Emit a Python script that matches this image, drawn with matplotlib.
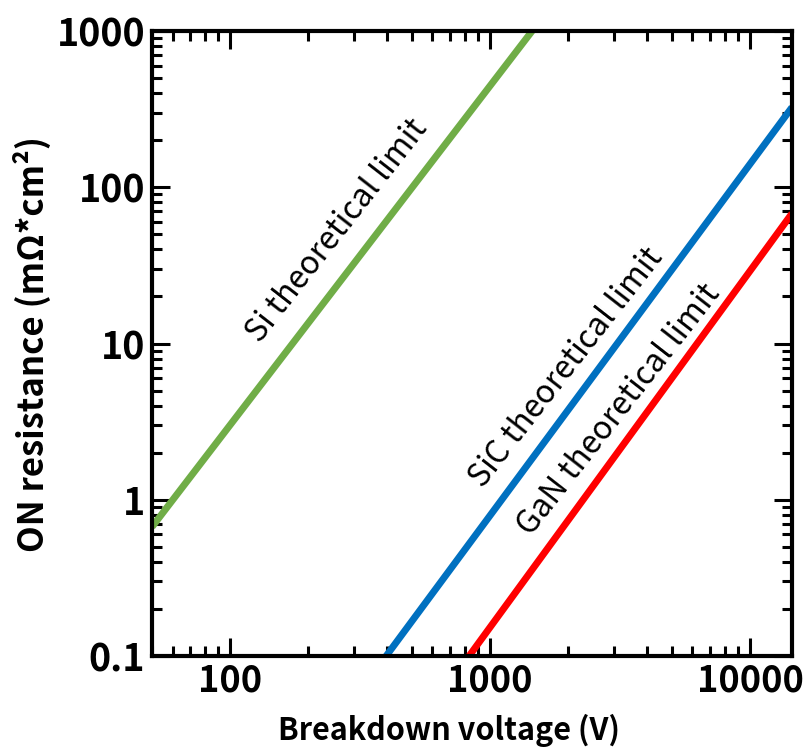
import numpy as np
import matplotlib
matplotlib.use("Agg")
import matplotlib.pyplot as plt
from matplotlib.ticker import LogLocator, FixedLocator, NullFormatter

plt.rcParams['font.family'] = ['Noto Sans CJK JP', 'DejaVu Sans']

# theoretical limit lines, endpoints (V, mOhm*cm2)
si_v = [50, 1450]
si_r = [0.67, 1000]
sic_v = [398, 14500]
sic_r = [0.1, 325]
gan_v = [830, 14500]
gan_r = [0.1, 68]

labels = ["Si theoretical limit", "SiC theoretical limit", "GaN theoretical limit"]
colors = ["#70AD47", "#0070C0", "#FF0000"]
# label centres (V, R)
label_v = [258, 1960, 3130]
label_r = [53, 7.0, 3.75]

xticks = [100, 1000, 10000]
yticks = [0.1, 1, 10, 100, 1000]

fig = plt.figure(figsize=(8.06, 7.51), dpi=100)
ax = fig.add_axes([152/806, 95/751, 640/806, 625/751])

for v, r, c in zip([si_v, sic_v, gan_v], [si_r, sic_r, gan_r], colors):
    ax.plot(v, r, color=c, lw=5, solid_capstyle='butt')

for lab, x, y in zip(labels, label_v, label_r):
    ax.text(x, y, lab, rotation=52, ha='center', va='center',
            rotation_mode='anchor', fontsize=23)

ax.set_xscale('log')
ax.set_yscale('log')
ax.set_xlim(50, 14500)
ax.set_ylim(0.1, 1000)

ax.xaxis.set_major_locator(FixedLocator(xticks))
ax.yaxis.set_major_locator(FixedLocator(yticks))
ax.set_xticklabels([str(t) for t in xticks])
ax.set_yticklabels(["0.1", "1", "10", "100", "1000"])
ax.xaxis.set_minor_locator(LogLocator(base=10, subs=np.arange(2, 10)))
ax.yaxis.set_minor_locator(LogLocator(base=10, subs=np.arange(2, 10)))
ax.xaxis.set_minor_formatter(NullFormatter())
ax.yaxis.set_minor_formatter(NullFormatter())

ax.tick_params(which='both', direction='in', top=True, right=True, width=2.2)
ax.tick_params(which='major', length=13, pad=5)
ax.tick_params(axis='x', which='major', labelsize=26)
ax.tick_params(axis='y', which='major', labelsize=27)
ax.tick_params(which='minor', length=7)
for lab in ax.get_xticklabels() + ax.get_yticklabels():
    lab.set_fontweight('bold')
for s in ax.spines.values():
    s.set_linewidth(3)

ax.set_xlabel("Breakdown voltage (V)", fontsize=22, fontweight='bold')
ax.xaxis.set_label_coords(0.464, -0.092)
ax.set_ylabel("ON resistance (mΩ*cm²)", fontsize=25, fontweight='bold', labelpad=4)

fig.savefig("out.png", dpi=100)
